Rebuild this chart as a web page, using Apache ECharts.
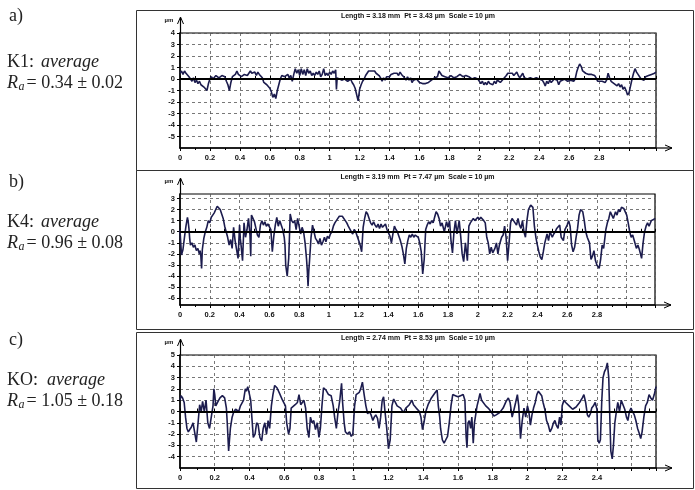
<!DOCTYPE html>
<html>
<head>
<meta charset="utf-8">
<script src="https://cdn.jsdelivr.net/npm/echarts@6/dist/echarts.min.js"></script>
<style>
html, body { margin: 0; padding: 0; background: #fff; }
#main { width: 695px; height: 490px; }
</style>
</head>
<body>
<div id="main"></div>
<script>
// profile data, [distance mm, height µm]
var profileK1 = [[0,0.5],[0.01,0.7],[0.02,0.4],[0.03,0.7],[0.04,0.5],[0.05,0.6],[0.06,0.2],[0.07,0.0],[0.08,-0.2],[0.09,0.1],[0.1,-0.3],[0.11,-0.1],[0.12,-0.4],[0.13,-0.2],[0.14,-0.5],[0.15,-0.4],[0.16,-0.7],[0.17,-0.6],[0.18,-1.0],[0.19,-0.4],[0.2,0.0],[0.21,0.2],[0.22,0.0],[0.24,0.3],[0.26,0.1],[0.28,0.3],[0.3,0.2],[0.31,-0.2],[0.32,-0.5],[0.33,-1.0],[0.34,-0.3],[0.35,0.2],[0.37,0.4],[0.38,0.7],[0.39,0.4],[0.41,0.2],[0.43,0.4],[0.45,0.3],[0.47,0.7],[0.48,0.5],[0.5,0.6],[0.51,0.3],[0.52,0.6],[0.53,0.4],[0.55,0.1],[0.56,-0.3],[0.57,-0.2],[0.58,-0.5],[0.59,-0.4],[0.6,-0.8],[0.61,-1.1],[0.62,-1.6],[0.63,-1.3],[0.64,-1.7],[0.65,-1.0],[0.66,-0.5],[0.67,0.0],[0.68,0.3],[0.7,0.2],[0.72,0.4],[0.73,0.1],[0.74,0.3],[0.75,-0.2],[0.76,0.4],[0.77,0.9],[0.78,0.5],[0.79,0.8],[0.8,0.3],[0.81,0.9],[0.82,0.4],[0.83,0.8],[0.84,0.3],[0.85,0.9],[0.86,0.5],[0.87,0.7],[0.88,0.3],[0.89,0.5],[0.9,0.3],[0.91,0.6],[0.92,0.4],[0.93,0.7],[0.94,0.2],[0.95,0.4],[0.96,0.9],[0.97,0.3],[0.98,0.5],[0.99,0.3],[1.0,0.6],[1.01,0.4],[1.02,0.7],[1.03,0.5],[1.04,0.8],[1.045,-0.9],[1.05,0.1],[1.06,0.0],[1.08,-0.1],[1.1,0.0],[1.12,-0.2],[1.14,0.0],[1.15,-0.3],[1.16,-0.5],[1.17,-0.8],[1.18,-0.7],[1.19,-1.9],[1.2,-0.9],[1.21,-0.5],[1.22,-0.2],[1.23,0.0],[1.24,0.3],[1.25,0.2],[1.26,0.7],[1.27,0.6],[1.28,0.7],[1.29,0.6],[1.3,0.7],[1.31,0.5],[1.32,0.6],[1.33,0.3],[1.34,0.1],[1.35,-0.2],[1.36,0.1],[1.37,-0.1],[1.38,0.2],[1.39,0.3],[1.4,0.2],[1.41,0.4],[1.42,0.3],[1.43,0.5],[1.44,0.4],[1.45,0.5],[1.46,0.3],[1.47,0.6],[1.48,0.4],[1.49,0.5],[1.5,0.1],[1.51,-0.1],[1.52,0.2],[1.53,-0.1],[1.54,0.1],[1.55,-0.3],[1.56,-0.1],[1.57,-0.2],[1.58,0.0],[1.6,-0.3],[1.62,-0.4],[1.64,-0.4],[1.66,-0.3],[1.68,-0.1],[1.7,0.1],[1.71,0.0],[1.72,0.2],[1.73,0.7],[1.74,0.5],[1.75,0.3],[1.77,0.2],[1.79,0.1],[1.81,0.3],[1.83,0.1],[1.85,0.2],[1.87,0.4],[1.89,0.2],[1.91,0.3],[1.93,0.2],[1.95,0.0],[1.97,0.1],[1.99,0.0],[2.0,0.1],[2.01,-0.4],[2.02,-0.2],[2.03,-0.5],[2.04,-0.3],[2.05,-0.5],[2.06,-0.2],[2.07,-0.4],[2.08,-0.3],[2.09,-0.5],[2.1,-0.2],[2.11,-0.4],[2.12,-0.1],[2.14,-0.3],[2.16,0.0],[2.18,0.3],[2.19,0.5],[2.2,0.4],[2.22,0.5],[2.23,0.3],[2.25,0.6],[2.26,0.3],[2.27,0.1],[2.28,0.3],[2.29,0.5],[2.3,0.1],[2.32,0.0],[2.34,0.1],[2.36,0.0],[2.38,0.1],[2.4,0.0],[2.42,-0.1],[2.43,-0.3],[2.44,-0.6],[2.45,-0.2],[2.46,-0.4],[2.47,-0.1],[2.48,-0.3],[2.5,0.0],[2.52,-0.1],[2.53,-0.5],[2.54,-0.2],[2.55,-0.1],[2.57,0.0],[2.59,-0.2],[2.61,-0.1],[2.63,-0.2],[2.64,0.0],[2.65,0.6],[2.66,1.0],[2.67,1.3],[2.68,1.1],[2.69,0.7],[2.7,0.8],[2.71,0.5],[2.73,0.4],[2.75,0.4],[2.77,0.3],[2.78,0.1],[2.79,-0.2],[2.8,-0.3],[2.82,-0.2],[2.84,-0.3],[2.85,-0.1],[2.86,0.5],[2.87,0.1],[2.88,-0.2],[2.9,-0.4],[2.91,-0.3],[2.92,-0.6],[2.93,-0.4],[2.94,-0.7],[2.95,-0.5],[2.96,-0.9],[2.97,-0.7],[2.98,-1.0],[2.99,-1.4],[3.0,-1.2],[3.01,-0.6],[3.02,0.0],[3.03,0.5],[3.04,0.9],[3.05,0.6],[3.06,0.4],[3.07,0.3],[3.08,0.0],[3.09,0.1],[3.1,-0.1],[3.11,0.2],[3.12,0.1],[3.13,0.3],[3.14,0.2],[3.15,0.4],[3.16,0.3],[3.17,0.5],[3.18,0.6]];

var profileK4 = [[0,0.2],[0.005,-1.0],[0.01,-2.1],[0.02,-1.6],[0.03,-0.5],[0.04,0.5],[0.05,1.3],[0.055,0.9],[0.06,0.3],[0.065,-0.6],[0.07,-1.2],[0.08,-1.0],[0.09,-1.4],[0.1,-1.2],[0.11,-1.7],[0.12,-1.5],[0.13,-2.0],[0.135,-1.7],[0.14,-2.2],[0.145,-3.3],[0.15,-1.6],[0.16,-0.6],[0.17,0.0],[0.18,0.4],[0.19,1.0],[0.2,0.8],[0.21,1.3],[0.22,1.5],[0.23,1.7],[0.24,2.0],[0.25,2.3],[0.26,2.2],[0.27,2.0],[0.28,1.6],[0.29,1.2],[0.3,0.5],[0.31,0.0],[0.32,-0.5],[0.33,-1.2],[0.34,-0.7],[0.35,-1.5],[0.36,0.4],[0.37,-0.8],[0.38,-1.6],[0.39,-2.4],[0.4,0.6],[0.405,-0.6],[0.41,-1.2],[0.42,-2.6],[0.43,0.8],[0.44,-0.5],[0.45,0.2],[0.46,1.2],[0.47,-0.3],[0.475,-2.2],[0.48,1.5],[0.49,1.2],[0.5,0.9],[0.51,0.3],[0.52,-0.3],[0.53,-0.5],[0.54,0.6],[0.55,1.0],[0.56,0.6],[0.57,0.9],[0.58,0.5],[0.59,0.7],[0.6,0.8],[0.61,0.2],[0.62,-1.8],[0.63,-0.4],[0.64,0.6],[0.65,1.3],[0.66,0.5],[0.67,1.0],[0.68,0.9],[0.69,0.2],[0.7,-0.5],[0.705,-1.2],[0.71,-3.0],[0.72,-4.0],[0.73,-2.4],[0.735,-0.5],[0.74,1.6],[0.75,1.0],[0.76,0.8],[0.77,1.0],[0.78,0.2],[0.79,1.2],[0.8,0.5],[0.81,-0.2],[0.82,0.4],[0.83,0.0],[0.84,-1.0],[0.85,-2.5],[0.855,-3.5],[0.86,-4.9],[0.865,-3.5],[0.87,-2.6],[0.88,-0.5],[0.89,0.6],[0.9,0.0],[0.91,-0.6],[0.92,-0.8],[0.93,-1.1],[0.94,-0.6],[0.95,-1.2],[0.96,-0.9],[0.97,-0.5],[0.98,-0.9],[0.99,-0.4],[1.0,-0.6],[1.01,-0.2],[1.02,0.0],[1.03,0.5],[1.04,0.8],[1.05,1.0],[1.06,1.2],[1.07,1.4],[1.08,1.5],[1.09,1.4],[1.1,1.3],[1.11,1.0],[1.12,0.8],[1.13,0.5],[1.14,0.4],[1.15,0.0],[1.16,-0.2],[1.17,0.2],[1.18,0.0],[1.19,-0.4],[1.2,-0.8],[1.21,-1.2],[1.22,-1.8],[1.23,0.4],[1.24,1.2],[1.25,1.8],[1.26,1.6],[1.27,1.2],[1.28,0.8],[1.29,0.6],[1.3,0.9],[1.31,0.6],[1.32,0.4],[1.33,0.7],[1.34,0.3],[1.35,0.7],[1.36,0.4],[1.37,0.3],[1.38,0.7],[1.39,0.2],[1.4,0.1],[1.41,-0.4],[1.42,-1.0],[1.43,-0.2],[1.44,0.5],[1.45,0.2],[1.46,0.0],[1.47,-0.4],[1.48,-0.8],[1.49,-1.3],[1.5,-2.0],[1.51,-2.9],[1.52,-1.5],[1.53,-0.8],[1.54,-0.3],[1.55,-0.5],[1.56,-0.2],[1.57,-0.5],[1.58,-0.3],[1.59,-0.2],[1.6,-0.5],[1.61,-1.0],[1.62,-1.8],[1.63,-3.8],[1.64,-2.5],[1.65,0.2],[1.66,0.6],[1.67,0.9],[1.68,0.7],[1.69,1.0],[1.7,0.8],[1.71,1.3],[1.72,1.8],[1.73,1.6],[1.74,1.2],[1.75,0.5],[1.76,0.8],[1.775,0.0],[1.79,0.9],[1.8,0.4],[1.81,1.0],[1.82,-0.8],[1.83,-1.9],[1.84,0.0],[1.85,1.0],[1.86,-0.2],[1.875,1.0],[1.885,-0.4],[1.895,-2.0],[1.905,-2.7],[1.917,-1.0],[1.93,-2.6],[1.94,0.5],[1.95,0.8],[1.96,1.0],[1.97,1.2],[1.98,1.0],[1.99,1.1],[2.0,1.3],[2.01,1.1],[2.02,1.3],[2.03,1.2],[2.04,1.0],[2.05,0.8],[2.06,-0.5],[2.07,-1.0],[2.08,-2.0],[2.09,-1.4],[2.1,-1.9],[2.115,-1.5],[2.125,-1.0],[2.135,-2.0],[2.145,-1.2],[2.16,-0.5],[2.17,-0.3],[2.18,0.5],[2.19,-0.5],[2.2,-2.6],[2.21,-1.0],[2.22,0.8],[2.23,1.2],[2.24,1.0],[2.26,0.6],[2.27,1.2],[2.28,0.6],[2.29,0.3],[2.3,1.0],[2.31,0.0],[2.32,-0.5],[2.33,1.0],[2.34,2.0],[2.355,2.4],[2.37,2.2],[2.38,0.5],[2.39,-0.5],[2.4,-1.2],[2.41,-1.8],[2.42,-2.3],[2.43,-2.5],[2.44,-1.8],[2.45,-1.0],[2.465,-0.2],[2.475,-0.8],[2.485,0.0],[2.5,-0.5],[2.51,-0.2],[2.52,0.0],[2.53,0.3],[2.55,0.6],[2.56,-0.5],[2.575,-0.8],[2.585,0.2],[2.6,0.6],[2.61,1.0],[2.62,0.5],[2.63,-1.2],[2.64,-1.8],[2.65,-1.4],[2.66,-0.5],[2.67,0.3],[2.68,1.5],[2.69,2.0],[2.705,1.8],[2.715,1.0],[2.725,0.0],[2.735,-0.5],[2.75,-1.0],[2.76,-2.5],[2.77,-2.2],[2.78,-1.7],[2.79,-2.6],[2.8,-3.0],[2.815,-3.3],[2.825,-2.5],[2.835,-1.2],[2.845,-1.5],[2.86,0.2],[2.87,0.8],[2.88,1.2],[2.89,1.8],[2.9,1.5],[2.91,1.2],[2.925,1.8],[2.935,1.5],[2.945,2.0],[2.955,1.8],[2.965,2.2],[2.98,2.1],[2.99,2.0],[3.0,1.5],[3.01,0.8],[3.02,0.0],[3.03,-0.5],[3.04,-0.3],[3.055,-1.0],[3.065,-1.5],[3.075,-1.2],[3.085,-1.6],[3.1,-2.4],[3.11,-1.0],[3.12,0.0],[3.13,0.5],[3.14,0.8],[3.15,0.5],[3.165,1.0],[3.18,1.1],[3.19,1.2]];

var profileKO = [[0,1.0],[0.006,1.4],[0.015,1.2],[0.024,0.8],[0.032,-0.5],[0.04,-1.5],[0.048,-1.8],[0.056,-1.6],[0.065,-1.4],[0.075,-1.0],[0.085,-1.1],[0.094,-2.7],[0.104,-1.0],[0.113,0.6],[0.122,0.0],[0.13,0.9],[0.14,0.0],[0.15,1.0],[0.16,-1.0],[0.17,-1.5],[0.18,-1.4],[0.19,0.5],[0.195,2.0],[0.2,1.5],[0.206,0.5],[0.216,0.8],[0.23,1.2],[0.244,1.4],[0.257,1.2],[0.267,0.3],[0.272,-1.0],[0.28,-3.5],[0.29,-1.5],[0.3,-0.5],[0.31,0.0],[0.32,0.2],[0.33,0.3],[0.338,0.0],[0.348,0.5],[0.357,0.6],[0.366,1.0],[0.376,2.0],[0.382,1.8],[0.39,2.2],[0.4,2.3],[0.407,1.0],[0.415,-0.8],[0.422,-2.3],[0.432,-2.0],[0.441,-1.0],[0.45,-1.2],[0.46,-2.3],[0.47,-2.6],[0.479,-1.5],[0.488,-1.0],[0.498,-2.0],[0.507,-0.8],[0.516,-1.5],[0.526,0.5],[0.535,1.5],[0.545,2.3],[0.558,2.1],[0.573,1.6],[0.59,1.0],[0.607,0.5],[0.614,-1.0],[0.625,-2.0],[0.633,-1.5],[0.64,0.3],[0.65,0.4],[0.663,0.6],[0.676,0.8],[0.685,1.5],[0.695,0.6],[0.704,0.8],[0.713,1.0],[0.723,0.3],[0.732,-1.5],[0.742,-2.3],[0.751,-0.5],[0.76,-1.0],[0.77,-0.8],[0.78,-1.6],[0.79,-1.0],[0.8,-2.3],[0.808,-1.5],[0.817,0.5],[0.826,2.1],[0.84,1.9],[0.855,1.5],[0.87,1.4],[0.882,0.5],[0.89,-0.5],[0.9,-1.5],[0.91,0.0],[0.92,1.0],[0.93,2.5],[0.935,1.0],[0.945,-1.0],[0.952,-1.8],[0.963,-2.0],[0.976,-1.8],[0.986,-2.2],[0.995,-2.0],[1.005,0.5],[1.014,1.5],[1.023,1.6],[1.032,1.7],[1.04,2.0],[1.05,2.6],[1.06,1.5],[1.07,0.5],[1.08,-0.2],[1.09,0.0],[1.1,-0.3],[1.11,-0.8],[1.118,-0.5],[1.127,-0.3],[1.137,-0.6],[1.146,-1.5],[1.155,-0.5],[1.164,1.0],[1.172,1.3],[1.18,0.0],[1.19,-1.5],[1.2,-3.3],[1.21,-2.5],[1.22,0.5],[1.23,1.1],[1.24,1.0],[1.25,0.5],[1.27,0.3],[1.286,-0.1],[1.3,0.3],[1.32,0.6],[1.335,1.0],[1.344,0.6],[1.36,0.3],[1.378,0.0],[1.387,-0.5],[1.396,-1.6],[1.404,-1.0],[1.415,0.0],[1.428,0.6],[1.447,1.2],[1.465,1.6],[1.48,1.9],[1.487,0.5],[1.495,-0.5],[1.5,-1.5],[1.51,-2.5],[1.52,-2.8],[1.53,-2.5],[1.54,-2.2],[1.55,-1.0],[1.56,0.5],[1.57,1.5],[1.585,1.4],[1.6,1.3],[1.615,1.4],[1.63,1.5],[1.64,1.0],[1.647,-2.2],[1.652,-3.2],[1.658,-1.0],[1.665,-0.8],[1.673,-1.5],[1.68,-0.5],[1.688,-2.8],[1.695,-1.0],[1.71,0.5],[1.718,1.0],[1.727,1.6],[1.736,1.0],[1.746,1.1],[1.76,0.5],[1.774,0.3],[1.79,0.0],[1.807,-0.4],[1.82,-0.3],[1.84,-0.1],[1.86,0.3],[1.877,0.9],[1.89,1.2],[1.9,0.8],[1.912,-0.5],[1.923,0.2],[1.932,0.8],[1.942,1.5],[1.95,0.5],[1.96,-2.4],[1.97,-0.8],[1.98,0.3],[1.99,-0.5],[2.0,0.5],[2.008,0.0],[2.017,-1.2],[2.026,-0.3],[2.035,0.3],[2.045,0.8],[2.054,1.5],[2.063,1.8],[2.073,1.7],[2.082,1.4],[2.09,0.8],[2.1,0.2],[2.11,-0.8],[2.12,-1.2],[2.13,-1.8],[2.14,-1.5],[2.15,-1.0],[2.158,-0.8],[2.166,-1.2],[2.176,-1.5],[2.185,-0.5],[2.193,-1.2],[2.2,0.5],[2.21,1.0],[2.22,0.8],[2.24,0.5],[2.26,0.2],[2.28,0.4],[2.3,0.8],[2.316,1.2],[2.325,1.5],[2.335,0.8],[2.345,-0.3],[2.353,-0.5],[2.362,-0.2],[2.37,0.3],[2.38,0.5],[2.39,0.8],[2.4,0.2],[2.405,-2.5],[2.413,-2.8],[2.42,-2.5],[2.428,1.0],[2.435,3.0],[2.443,3.5],[2.452,3.8],[2.46,4.3],[2.468,3.0],[2.475,-1.0],[2.48,-3.5],[2.488,-4.2],[2.495,-3.0],[2.503,-1.0],[2.512,0.0],[2.52,0.8],[2.53,0.0],[2.54,1.0],[2.55,1.1],[2.56,0.2],[2.57,-0.5],[2.578,-0.8],[2.587,0.0],[2.596,0.3],[2.605,0.0],[2.615,-0.3],[2.624,-0.8],[2.634,-1.5],[2.643,-1.9],[2.652,-2.4],[2.66,-1.8],[2.67,-0.5],[2.68,0.5],[2.69,0.8],[2.7,1.5],[2.71,1.2],[2.72,1.0],[2.73,1.5],[2.74,2.2]];

var profiles = [profileK1, profileK4, profileKO];
var lengths = [3.18, 3.19, 2.74];
var heightRanges = [[-6, 4], [-6.6, 3.4], [-5, 5]];
var yTickLabelsK1 = [-5, -4, -3, -2, -1, 0, 1, 2, 3, 4];
var yTickLabelsK4 = [-6, -5, -4, -3, -2, -1, 0, 1, 2, 3];
var yTickLabelsKO = [-4, -3, -2, -1, 0, 1, 2, 3, 4, 5];
var yTickLabels = [yTickLabelsK1, yTickLabelsK4, yTickLabelsKO];
var lastXLabel = [2.8, 2.8, 2.4];
var panelTitles = [
	'Length = 3.18 mm  Pt = 3.43 µm  Scale = 10 µm',
	'Length = 3.19 mm  Pt = 7.47 µm  Scale = 10 µm',
	'Length = 2.74 mm  Pt = 8.53 µm  Scale = 10 µm'
];
var panelLetters = ['a)', 'b)', 'c)'];
var sampleNames = ['K1', 'K4', 'KO'];
var raTexts = ['= 0.34 ± 0.02', '= 0.96 ± 0.08', '= 1.05 ± 0.18'];

// 布局
var grids = [
	{left: 180, top: 33, width: 476, height: 115},
	{left: 180, top: 194, width: 475, height: 111},
	{left: 180, top: 355, width: 476, height: 113}
];
var frames = [[136.5, 10.5, 160], [136.5, 170.5, 159], [136.5, 332.5, 156]];
var textRows = [[16, 62, 83], [182, 222, 243], [340, 380, 401]];
var averageX = [41, 41, 47];

var smallFont = 'Liberation Sans';

function buildOption() {
	var option = {
		animation: false,
		backgroundColor: '#fff',
		grid: [],
		xAxis: [],
		yAxis: [],
		series: [],
		graphic: []
	};

	for (var i = 0; i < 3; i++) {
		var g = grids[i];
		option.grid.push({
			left: g.left, top: g.top, width: g.width, height: g.height,
			show: true, borderColor: '#000', borderWidth: 1.2, backgroundColor: '#fff'
		});

		//x轴 底部
		(function(idx) {
			option.xAxis.push({
				gridIndex: idx,
				type: 'value',
				min: 0,
				max: lengths[idx],
				interval: 0.2,
				position: 'bottom',
				axisLine: {onZero: false, lineStyle: {color: '#000', width: 1.5}},
				axisTick: {show: true, length: 3, lineStyle: {color: '#000'}},
				minorTick: {show: true, splitNumber: 2, length: 2, lineStyle: {color: '#000'}},
				axisLabel: {
					fontSize: 7.5, fontWeight: 'bold', color: '#111', fontFamily: smallFont, margin: 6,
					showMaxLabel: false,
					formatter: function(v) {
						var r = Math.round(v * 10) / 10;
						return r <= lastXLabel[idx] + 1e-6 ? String(r) : '';
					}
				},
				splitLine: {show: true, lineStyle: {color: '#555', type: [3, 3], width: 0.8}}
			});
		})(i);

		//x轴 顶部小刻度
		option.xAxis.push({
			gridIndex: i, type: 'value', min: 0, max: lengths[i], interval: 0.1, position: 'top',
			axisLine: {show: false},
			axisTick: {show: true, length: 3, lineStyle: {color: '#000'}},
			axisLabel: {show: false},
			splitLine: {show: false}
		});

		//y轴
		option.yAxis.push({
			gridIndex: i,
			type: 'value',
			min: heightRanges[i][0],
			max: heightRanges[i][1],
			axisLine: {show: true, lineStyle: {color: '#000', width: 1.5}},
			axisTick: {show: true, length: 3, lineStyle: {color: '#000'}, customValues: yTickLabels[i]},
			axisLabel: {fontSize: 7.5, fontWeight: 'bold', color: '#111', fontFamily: smallFont, margin: 5,
				customValues: yTickLabels[i]},
			splitLine: {show: true, lineStyle: {color: '#555', type: [3, 3], width: 0.8}, customValues: yTickLabels[i]}
		});

		option.series.push({
			type: 'line',
			xAxisIndex: i * 2,
			yAxisIndex: i,
			data: profiles[i],
			symbol: 'none',
			lineStyle: {color: '#1c1c4e', width: 1.6},
			markLine: {
				silent: true,
				symbol: 'none',
				label: {show: false},
				lineStyle: {color: '#000', width: 2, type: 'solid'},
				data: [{yAxis: 0}]
			}
		});

		// 外框
		var f = frames[i];
		option.graphic.push({
			type: 'rect', shape: {x: f[0], y: f[1], width: 695 - f[0] - 1.5, height: f[2]},
			style: {fill: 'none', stroke: '#333', lineWidth: 1}, z: 0
		});

		// 标题
		option.graphic.push({
			type: 'text', x: g.left + g.width / 2, y: g.top - 17,
			style: {text: panelTitles[i], fill: '#111', font: 'bold 7px "Liberation Sans"', align: 'center', verticalAlign: 'middle'}
		});

		// µm 和箭头
		var ax = g.left + 0.5, pTop = g.top, pBottom = g.top + g.height, pRight = g.left + g.width;
		option.graphic.push({
			type: 'text', x: ax - 16, y: pTop - 13,
			style: {text: 'µm', fill: '#111', font: 'bold 6px "Liberation Sans"', align: 'left', verticalAlign: 'middle'}
		});
		option.graphic.push({type: 'polyline', shape: {points: [[ax, pTop], [ax, pTop - 15]]}, style: {stroke: '#000', lineWidth: 1.2, fill: null}});
		option.graphic.push({type: 'polyline', shape: {points: [[ax - 3, pTop - 9], [ax, pTop - 16], [ax + 3, pTop - 9]]}, style: {stroke: '#000', lineWidth: 1, fill: null}});
		option.graphic.push({type: 'polyline', shape: {points: [[pRight, pBottom], [pRight + 16, pBottom]]}, style: {stroke: '#000', lineWidth: 1.2, fill: null}});
		option.graphic.push({type: 'polyline', shape: {points: [[pRight + 9, pBottom - 3], [pRight + 16, pBottom], [pRight + 9, pBottom + 3]]}, style: {stroke: '#000', lineWidth: 1, fill: null}});

		// 左侧说明
		var t = textRows[i];
		option.graphic.push({
			type: 'text', x: 9, y: t[0],
			style: {text: panelLetters[i], fill: '#222', font: '18px "Liberation Serif"', verticalAlign: 'middle'}
		});
		option.graphic.push({
			type: 'text', x: 7, y: t[1],
			style: {text: sampleNames[i] + ':', fill: '#222', font: '18px "Liberation Serif"', verticalAlign: 'middle'}
		});
		option.graphic.push({
			type: 'text', x: averageX[i], y: t[1],
			style: {text: 'average', fill: '#222', font: 'italic 18px "Liberation Serif"', verticalAlign: 'middle'}
		});
		option.graphic.push({
			type: 'text', x: 7, y: t[2],
			style: {text: 'R', fill: '#222', font: 'italic 18px "Liberation Serif"', verticalAlign: 'middle'}
		});
		option.graphic.push({
			type: 'text', x: 18.5, y: t[2] + 4,
			style: {text: 'a', fill: '#222', font: 'italic 12px "Liberation Serif"', verticalAlign: 'middle'}
		});
		option.graphic.push({
			type: 'text', x: 26.5, y: t[2],
			style: {text: raTexts[i], fill: '#222', font: '18px "Liberation Serif"', verticalAlign: 'middle'}
		});
	}
	return option;
}

var chart = echarts.init(document.getElementById('main'), null, {renderer: 'canvas'});
chart.setOption(buildOption());
</script>
</body>
</html>
